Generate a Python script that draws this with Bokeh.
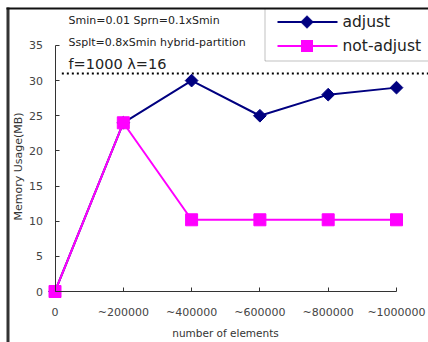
from bokeh.plotting import figure
from bokeh.models import (ColumnDataSource, LinearAxis, FixedTicker, Range1d,
                          Label, BoxAnnotation, PolyAnnotation)
from bokeh.embed import file_html
from bokeh.resources import INLINE
import math

# ---- data ----
categories = ["0", "~200000", "~400000", "~600000", "~800000", "~1000000"]
adjust = [0, 24, 30, 25, 28, 29]
not_adjust = [0, 24, 10.2, 10.2, 10.2, 10.2]
limit_mb = 31
y_ticks = [0, 5, 10, 15, 20, 25, 30, 35]
series_names = ["adjust", "not-adjust"]
notes = ["Smin=0.01 Sprn=0.1xSmin", "Ssplt=0.8xSmin hybrid-partition", "f=1000 \u03bb=16"]

W, H = 428, 342
FONT = "DejaVu Sans"
NAVY, MAGENTA = "#000080", "#FF00FF"

xs = list(range(len(categories)))
src = ColumnDataSource(dict(x=xs, adjust=adjust, not_adjust=not_adjust))

# scale: 68.3 px per category step, 7.03 px per MB; origin at (54.5, 291)
x_px, y_px = 68.3, 7.03
x0_px, y0_px = 54.5, 291
p = figure(width=W, height=H, output_backend="svg", toolbar_location=None,
           x_axis_type=None, y_axis_type=None,
           x_range=Range1d(-x0_px / x_px, (W - x0_px) / x_px),
           y_range=Range1d(-(H - y0_px) / y_px, y0_px / y_px),
           min_border=0, min_border_left=0, min_border_right=0,
           min_border_top=0, min_border_bottom=0)
p.outline_line_color = None
p.xgrid.visible = False
p.ygrid.visible = False
p.background_fill_color = "white"
p.border_fill_color = "white"

# axes sit at data zero, ticks pointing inward
xaxis = LinearAxis(fixed_location=0, bounds=(0, len(categories) - 1),
                   ticker=FixedTicker(ticks=xs),
                   major_label_overrides={i: c for i, c in enumerate(categories)})
yaxis = LinearAxis(fixed_location=0, bounds=(0, 35),
                   ticker=FixedTicker(ticks=y_ticks))
for ax in (xaxis, yaxis):
    ax.axis_line_color = "#333333"
    ax.axis_line_width = 1
    ax.major_tick_line_color = "#333333"
    ax.major_tick_in = 4
    ax.major_tick_out = 0
    ax.minor_tick_line_color = None
    ax.major_label_text_font = FONT
    ax.major_label_text_font_size = "11px"
    ax.major_label_text_color = "#444444"
xaxis.major_label_standoff = 14
yaxis.major_label_standoff = 12
p.add_layout(xaxis, "below")
p.add_layout(yaxis, "left")

# dotted memory limit line
p.segment(x0=[0.1], y0=[limit_mb], x1=[(W - x0_px) / x_px], y1=[limit_mb],
          line_color="black", line_width=2, line_dash="2 3")

# series
p.line("x", "adjust", source=src, line_color=NAVY, line_width=2)
p.scatter("x", "adjust", source=src, marker="square", angle=math.pi / 4,
          size=9, fill_color=NAVY, line_color=NAVY)
p.line("x", "not_adjust", source=src, line_color=MAGENTA, line_width=2)
p.scatter("x", "not_adjust", source=src, marker="square", size=12,
          fill_color=MAGENTA, line_color=MAGENTA)


def scr(**kw):
    """BoxAnnotation placed in screen pixels (y measured downward from the top)."""
    return BoxAnnotation(left=kw["l"], right=kw["r"], top=H - kw["t"], bottom=H - kw["b"],
                         left_units="screen", right_units="screen",
                         top_units="screen", bottom_units="screen",
                         fill_color=kw.get("fill", "white"), fill_alpha=1,
                         line_color=kw.get("line", None), line_width=kw.get("lw", 1))


# legend box with line + marker keys
p.add_layout(scr(l=264.5, r=432, t=8, b=60.5, fill="white", line="#333333"))
key_x0, key_x1, key_cx, text_x = 277, 337, 306.5, 342
for i, (name, color) in enumerate(zip(series_names, [NAVY, MAGENTA])):
    cy = 21.5 + 24 * i
    p.add_layout(scr(l=key_x0, r=key_x1, t=cy - 1, b=cy + 1, fill=color))
    if i == 0:
        r = 6.5
        p.add_layout(PolyAnnotation(xs=[key_cx, key_cx + r, key_cx, key_cx - r],
                                    ys=[H - cy + r, H - cy, H - cy - r, H - cy],
                                    xs_units="screen", ys_units="screen",
                                    fill_color=color, fill_alpha=1, line_color=color))
    else:
        p.add_layout(scr(l=key_cx - 6, r=key_cx + 6, t=cy - 6, b=cy + 6, fill=color))
    p.add_layout(Label(x=text_x, y=H - cy, x_units="screen", y_units="screen", text=name,
                       text_font=FONT, text_font_size="15.5px", text_color="#222222",
                       text_baseline="middle", text_align="left"))

# parameter notes
note_specs = [(notes[0], 20, "11px"), (notes[1], 42, "11px"), (notes[2], 63, "14.5px")]
for txt, y_top, fs in note_specs:
    p.add_layout(Label(x=68, y=H - y_top, x_units="screen", y_units="screen", text=txt,
                       text_font=FONT, text_font_size=fs, text_color="#222222",
                       text_baseline="middle", text_align="left"))

# axis titles
p.add_layout(Label(x=225, y=H - 332, x_units="screen", y_units="screen",
                   text="number of elements", text_font=FONT, text_font_size="10.5px",
                   text_color="#333333", text_align="center", text_baseline="middle"))
p.add_layout(Label(x=18, y=H - 166, x_units="screen", y_units="screen",
                   text="Memory Usage(MB)", angle=math.pi / 2, text_font=FONT,
                   text_font_size="11px", text_color="#333333",
                   text_align="center", text_baseline="middle"))

# page frame lines (left and top)
p.add_layout(scr(l=6, r=9, t=7, b=H, fill="#333333"))
p.add_layout(scr(l=6, r=W, t=7, b=9, fill="#111111"))

open("out.html", "w").write(file_html(p, INLINE))
